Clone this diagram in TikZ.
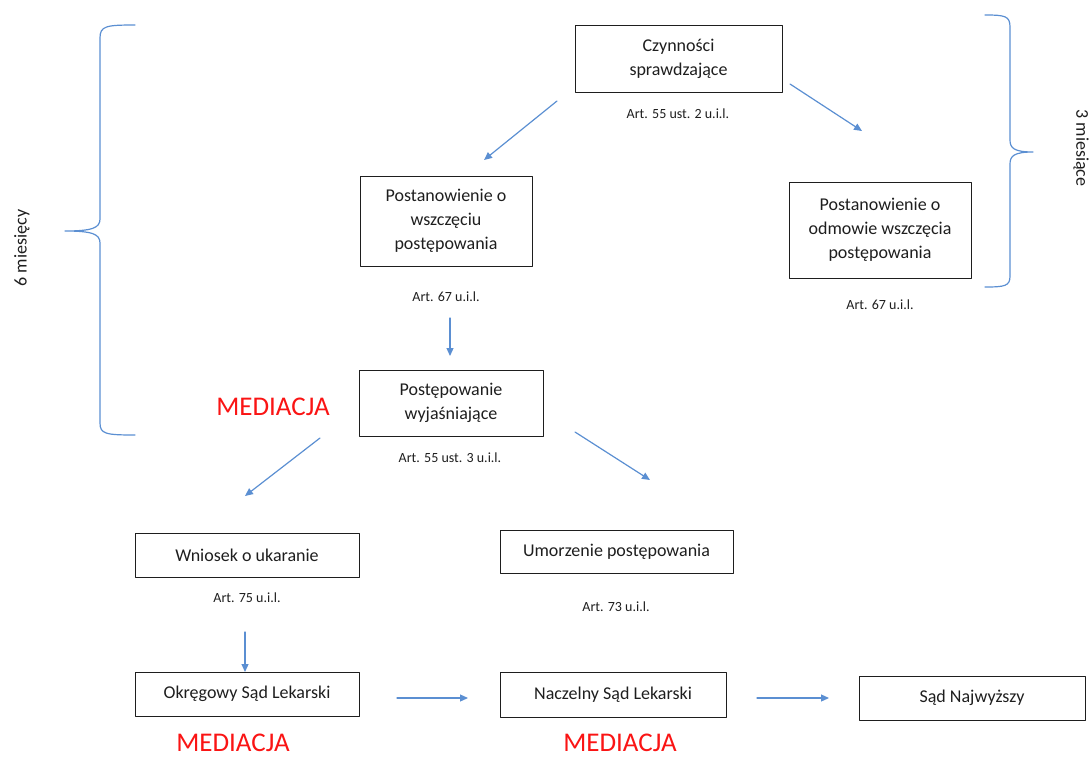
\documentclass[tikz,border=0pt]{standalone}
\usepackage{fontspec}
\setmainfont{Carlito}
\usetikzlibrary{arrows.meta}
\definecolor{strzalka}{RGB}{91,143,210}
\definecolor{mediacja}{RGB}{250,20,20}
\definecolor{tekst}{RGB}{30,30,30}

\begin{document}
\begin{tikzpicture}[x=1pt, y=-1pt, line cap=round, line join=round, >={Triangle[length=8pt,width=7pt]},
  box/.style={draw=tekst, line width=1pt, align=center, text=tekst, inner sep=0pt,
    font=\fontsize{18}{24}\selectfont},
  art/.style={text=tekst, font=\fontsize{14}{16}\selectfont},
  med/.style={text=mediacja, inner sep=1pt, font=\fontsize{27}{30}\selectfont},
  arr/.style={->, draw=strzalka, line width=1.2pt},
  klamra/.style={draw=strzalka, line width=1.2pt}]
  \useasboundingbox (0,0) rectangle (1092,758);
  % skrzynki
  \node[box, minimum width=207pt, minimum height=67pt] (czyn) at (678.5,58.5) {Czynności\\sprawdzające};
  \node[box, minimum width=172pt, minimum height=90pt] (wszcz) at (446,221) {Postanowienie o\\wszczęciu\\postępowania};
  \node[box, minimum width=182pt, minimum height=96pt] (odmowa) at (880,230) {Postanowienie o\\odmowie wszczęcia\\postępowania};
  \node[box, minimum width=184pt, minimum height=66pt] (wyjasn) at (451,403) {Postępowanie\\wyjaśniające};
  \node[box, minimum width=224pt, minimum height=44pt] (wniosek) at (247,555) {Wniosek o ukaranie};
  \node[box, minimum width=233pt, minimum height=43pt] (umorz) at (616.5,551.5) {Umorzenie postępowania};
  \node[box, minimum width=224pt, minimum height=44pt] (osl) at (247,694) {Okręgowy Sąd Lekarski};
  \node[box, minimum width=226pt, minimum height=45pt] (nsl) at (613,694.5) {Naczelny Sąd Lekarski};
  \node[box, minimum width=226pt, minimum height=44pt] (sn) at (972,698) {Sąd Najwyższy};
  % przepisy
  \node[art] (art1) at (678,114) {Art. 55 ust. 2 u.i.l.};
  \node[art] (art2) at (446,297) {Art. 67 u.i.l.};
  \node[art] (art3) at (880,305) {Art. 67 u.i.l.};
  \node[art] (art4) at (450,458) {Art. 55 ust. 3 u.i.l.};
  \node[art] (art5) at (247,598) {Art. 75 u.i.l.};
  \node[art] (art6) at (616,607) {Art. 73 u.i.l.};
  % mediacja
  \node[med] (med1) at (273,407) {MEDIACJA};
  \node[med] (med2) at (233,743) {MEDIACJA};
  \node[med] (med3) at (620,743) {MEDIACJA};
  % terminy
  \node[text=tekst, font=\fontsize{18}{20}\selectfont, rotate=90] (szesc) at (22,248) {6 miesięcy};
  \node[text=tekst, font=\fontsize{18}{20}\selectfont, rotate=-90] (trzy) at (1081,148) {3 miesiące};
  % strzalki
  \coordinate (s1a) at (557,101); \coordinate (s1b) at (484,160);
  \coordinate (s2a) at (790,84);  \coordinate (s2b) at (862,131);
  \coordinate (s3a) at (450,318); \coordinate (s3b) at (450,356);
  \coordinate (s4a) at (320,438); \coordinate (s4b) at (245,496);
  \coordinate (s5a) at (575,432); \coordinate (s5b) at (650,480);
  \coordinate (s6a) at (245,632); \coordinate (s6b) at (245,672);
  \coordinate (s7a) at (397,698); \coordinate (s7b) at (468,698);
  \coordinate (s8a) at (757,698); \coordinate (s8b) at (829,698);
  \foreach \s in {1,...,8}
    \draw[arr] (s\s a) -- (s\s b);
  % klamry
  \draw[klamra] (135,25) .. controls (106,25) and (100,26) .. (100,38) -- (100,219)
    .. controls (100,228) and (92,231) .. (65,231)
    .. controls (92,231) and (100,234) .. (100,243) -- (100,423)
    .. controls (100,434) and (106,435) .. (135,435);
  \draw[klamra] (985,15) .. controls (1005,15) and (1010,16) .. (1010,27) -- (1010,140)
    .. controls (1010,148) and (1014,152) .. (1033,152)
    .. controls (1014,152) and (1010,156) .. (1010,164) -- (1010,276)
    .. controls (1010,286) and (1005,287) .. (985,287);
\end{tikzpicture}
\end{document}
